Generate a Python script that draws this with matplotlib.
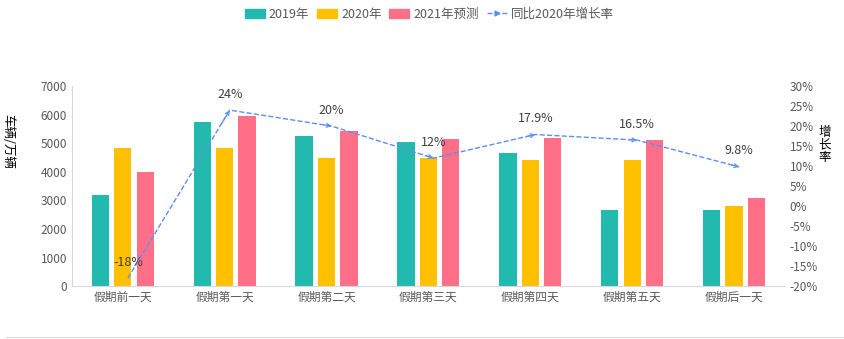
import numpy as np
import matplotlib.pyplot as plt
from matplotlib.lines import Line2D
from matplotlib.patches import Patch

plt.rcParams['font.family'] = ['Noto Sans CJK SC', 'DejaVu Sans']
plt.rcParams['font.size'] = 8.5

days = ['假期前一天', '假期第一天', '假期第二天', '假期第三天', '假期第四天', '假期第五天', '假期后一天']
v2019 = [3200, 5730, 5240, 5030, 4650, 2650, 2650]
v2020 = [4820, 4820, 4500, 4500, 4430, 4400, 2800]
v2021 = [3980, 5970, 5420, 5140, 5200, 5130, 3070]
growth = [-18, 24, 20, 12, 17.9, 16.5, 9.8]
growth_labels = ['-18%', '24%', '20%', '12%', '17.9%', '16.5%', '9.8%']

c19, c20, c21, cl = '#22b9ae', '#ffc000', '#ff6f88', '#5b8ff9'
txt = '#595959'

fig = plt.figure(figsize=(8.45, 3.39), dpi=100)
ax = fig.add_axes([0.085, 0.156, 0.844, 0.59])
x = np.arange(len(days))
w = 0.17
ax.bar(x - 0.22, v2019, w, color=c19)
ax.bar(x, v2020, w, color=c20)
ax.bar(x + 0.22, v2021, w, color=c21)
ax.set_xlim(-0.5, 6.5)
ax.set_ylim(0, 7000)
ax.set_yticks(range(0, 7001, 1000))
ax.set_xticks(x)
ax.set_xticklabels(days, color=txt)
ax.tick_params(length=0, colors=txt, labelsize=8.5)
for s in ['top', 'right']:
    ax.spines[s].set_visible(False)
ax.spines['left'].set_color('#d9d9d9')
ax.spines['bottom'].set_color('#d9d9d9')
ax.set_ylabel('车辆/万辆', rotation=270, color='black', fontsize=9, va='center')
ax.yaxis.set_label_coords(-0.09, 0.725)

ax2 = ax.twinx()
ax2.set_ylim(-20, 30)
ax2.set_yticks(range(-20, 31, 5))
ax2.set_yticklabels([f'{t}%' for t in range(-20, 31, 5)])
ax2.tick_params(length=0, colors=txt, labelsize=8.5)
for s in ax2.spines.values():
    s.set_visible(False)
xl = x + 0.05
ax2.plot(xl, growth, color=cl, ls='--', lw=1)
for i in range(1, len(x)):
    dx = xl[i] - xl[i - 1]
    dg = growth[i] - growth[i - 1]
    ax2.annotate('', xy=(xl[i], growth[i]), xytext=(xl[i] - 0.08 * dx, growth[i] - 0.08 * dg),
                 arrowprops=dict(arrowstyle='->', color=cl, lw=0.9, mutation_scale=7,
                                 shrinkA=0, shrinkB=0))
for i, (g, lab) in enumerate(zip(growth, growth_labels)):
    ax2.text(xl[i], g + 4, lab, ha='center', va='center', color='#404040', fontsize=9)
ax2.text(1.056, 0.705, '增\n长\n率', transform=ax2.transAxes, ha='center', va='center',
         fontsize=9, linespacing=0.95)

handles = [Patch(color=c19), Patch(color=c20), Patch(color=c21),
           Line2D([0], [0], color=cl, ls='--', lw=1, marker='>', markevery=[1], markersize=3.5)]
fig.legend(handles, ['2019年', '2020年', '2021年预测', '同比2020年增长率'], loc='upper center',
           bbox_to_anchor=(0.508, 1.01), ncol=4, frameon=False, fontsize=9, handlelength=1.6,
           handleheight=0.7, columnspacing=0.6, handletextpad=0.35, labelcolor=txt)

fig.add_artist(Line2D([0.007, 1.0], [0.006, 0.006], color='#d9d9d9', lw=0.8,
                      transform=fig.transFigure))
fig.savefig('out.png', dpi=100)
